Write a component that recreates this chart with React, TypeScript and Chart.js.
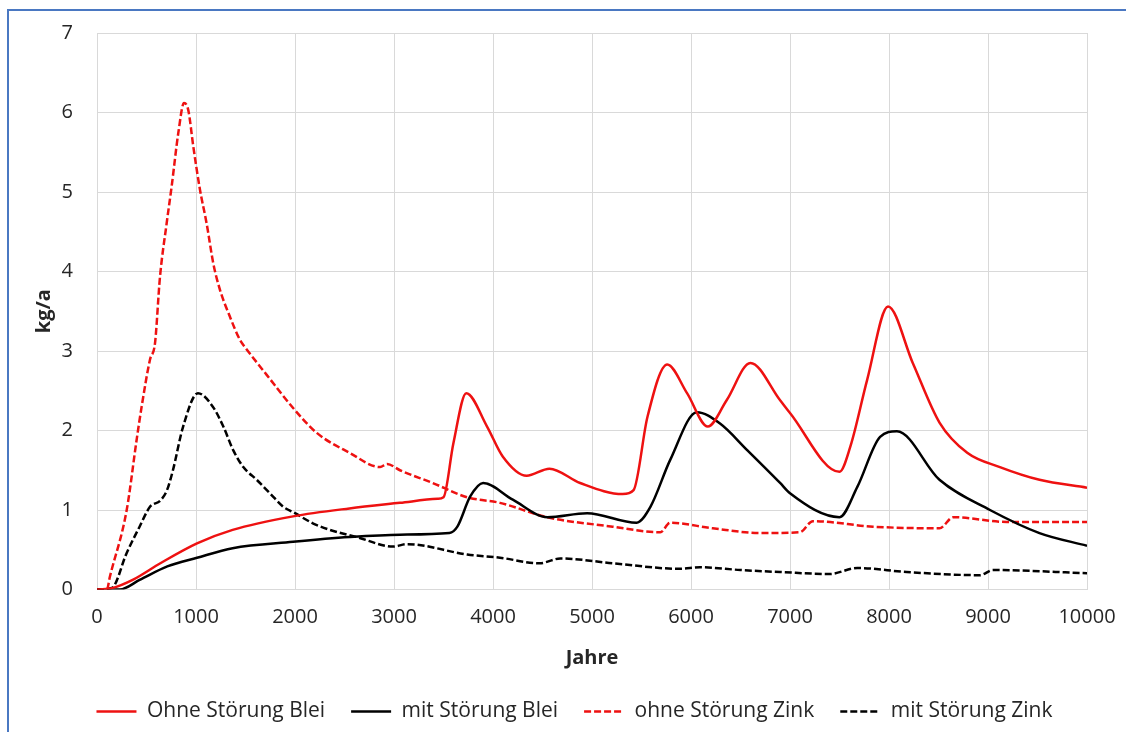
import React, { useEffect, useRef } from "react";
import { Chart, registerables } from "chart.js";

Chart.register(...registerables);

// Ohne Störung Blei (red solid)
const ohneBleiX = [0, 160, 360, 640, 1010, 1370, 1980, 2550, 3060, 3440, 3500, 3600, 3730, 3940, 4100, 4340, 4570, 4880, 5310, 5420, 5560, 5760, 5960, 6170, 6360, 6600, 6900, 7000, 7500, 7610, 7780, 7990, 8240, 8510, 8790, 9120, 9520, 10000];
const ohneBleiY = [0, 0.02, 0.12, 0.33, 0.58, 0.75, 0.92, 1.02, 1.09, 1.14, 1.16, 1.84, 2.47, 2.05, 1.67, 1.43, 1.52, 1.34, 1.2, 1.25, 2.17, 2.83, 2.47, 2.05, 2.38, 2.85, 2.38, 2.22, 1.48, 1.8, 2.64, 3.56, 2.85, 2.1, 1.72, 1.54, 1.38, 1.28];

// mit Störung Blei (black solid)
const mitBleiX = [0, 230, 430, 710, 1010, 1370, 1980, 2550, 3060, 3560, 3640, 3770, 3900, 4200, 4550, 4950, 5450, 5590, 5790, 6060, 6290, 6570, 6900, 7000, 7500, 7680, 7910, 8080, 8510, 9020, 9520, 10000];
const mitBleiY = [0, 0, 0.12, 0.29, 0.4, 0.52, 0.6, 0.66, 0.69, 0.71, 0.79, 1.17, 1.34, 1.13, 0.91, 0.96, 0.84, 1.04, 1.63, 2.23, 2.09, 1.75, 1.34, 1.21, 0.91, 1.29, 1.92, 1.99, 1.38, 1.0, 0.71, 0.55];

// ohne Störung Zink (red dashed)
const ohneZinkX = [0, 100, 130, 300, 400, 451, 535, 586, 636, 704, 754, 821, 879, 922, 973, 1040, 1108, 1175, 1242, 1343, 1444, 1500, 1714, 1983, 2220, 2550, 2860, 2930, 3060, 3390, 3740, 4070, 4545, 5210, 5690, 5790, 6220, 6700, 7100, 7230, 7840, 8510, 8650, 9190, 10000];
const ohneZinkY = [0, 0, 0.16, 1.0, 1.88, 2.3, 2.89, 3.1, 3.93, 4.61, 5.07, 5.74, 6.12, 6.03, 5.57, 5.03, 4.6, 4.1, 3.77, 3.43, 3.14, 3.04, 2.7, 2.28, 1.97, 1.72, 1.54, 1.58, 1.5, 1.34, 1.16, 1.09, 0.91, 0.79, 0.72, 0.84, 0.77, 0.71, 0.72, 0.86, 0.79, 0.77, 0.91, 0.85, 0.85];

// mit Störung Zink (black dashed)
const mitZinkX = [0, 150, 300, 430, 535, 640, 707, 767, 870, 1020, 1170, 1276, 1377, 1478, 1613, 1747, 1882, 2000, 2185, 2353, 2623, 2990, 3130, 3740, 4070, 4470, 4680, 5210, 5890, 6090, 6500, 6900, 7400, 7680, 8180, 8920, 9050, 10000];
const mitZinkY = [0, 0.02, 0.46, 0.79, 1.04, 1.12, 1.25, 1.5, 2.05, 2.47, 2.3, 2.05, 1.75, 1.54, 1.38, 1.21, 1.04, 0.96, 0.83, 0.75, 0.66, 0.54, 0.57, 0.44, 0.4, 0.33, 0.39, 0.33, 0.26, 0.28, 0.245, 0.22, 0.195, 0.27, 0.22, 0.18, 0.245, 0.205];

const seriesNames = ["Ohne Störung Blei", "mit Störung Blei", "ohne Störung Zink", "mit Störung Zink"];
const xTitle = "Jahre";
const yTitle = "kg/a";

const RED = "#ee1111";
const BLACK = "#000000";
const GRID = "#d9d9d9";
const TEXT = "#262626";
const FONT = "'Open Sans', sans-serif";
const DASH = [7, 3];

function pts(xs: number[], ys: number[]) {
  return xs.map((x, i) => ({ x, y: ys[i] }));
}

export default function App() {
  const ref = useRef<HTMLCanvasElement | null>(null);

  useEffect(() => {
    if (!ref.current) return;
    const common = { pointRadius: 0, borderWidth: 2.5, cubicInterpolationMode: "monotone" as const, fill: false };
    const chart = new Chart(ref.current, {
      type: "line",
      data: {
        datasets: [
          { ...common, label: seriesNames[0], data: pts(ohneBleiX, ohneBleiY), borderColor: RED, backgroundColor: RED },
          { ...common, label: seriesNames[1], data: pts(mitBleiX, mitBleiY), borderColor: BLACK, backgroundColor: BLACK },
          { ...common, label: seriesNames[2], data: pts(ohneZinkX, ohneZinkY), borderColor: RED, backgroundColor: RED, borderDash: DASH },
          { ...common, label: seriesNames[3], data: pts(mitZinkX, mitZinkY), borderColor: BLACK, backgroundColor: BLACK, borderDash: DASH },
        ],
      },
      options: {
        animation: false,
        responsive: false,
        maintainAspectRatio: false,
        layout: { padding: { left: 62, top: 33, right: 39, bottom: 0 } },
        plugins: {
          tooltip: { enabled: false },
          legend: {
            position: "bottom",
            labels: {
              usePointStyle: true,
              pointStyle: "line",
              pointStyleWidth: 40,
              boxHeight: 21,
              padding: 26,
              color: TEXT,
              font: { family: FONT, size: 21 },
              generateLabels: (c: any) => {
                const items = Chart.defaults.plugins.legend.labels.generateLabels(c);
                return items.map((it: any) => {
                  const ds: any = c.data.datasets[it.datasetIndex];
                  return { ...it, lineDash: ds.borderDash || [], lineWidth: 2.5, strokeStyle: ds.borderColor, fillStyle: ds.borderColor, pointStyle: "line" };
                });
              },
            },
          },
        },
        scales: {
          x: {
            type: "linear",
            min: 0,
            max: 10000,
            ticks: { stepSize: 1000, color: TEXT, font: { family: FONT, size: 20 }, padding: 16, maxRotation: 0, callback: (v: any) => String(v) },
            grid: { color: GRID, lineWidth: 1, drawTicks: false },
            border: { color: GRID },
            title: { display: true, text: xTitle, color: TEXT, font: { family: FONT, size: 20, weight: "bold" }, padding: { top: 0, bottom: 5 } },
            afterFit: (s: any) => { s.height = 85.5; s.paddingLeft = 0; s.paddingRight = 0; },
          },
          y: {
            min: 0,
            max: 7,
            ticks: { stepSize: 1, color: TEXT, font: { family: FONT, size: 20 }, padding: 24, callback: (v: any) => String(v) },
            grid: { color: GRID, lineWidth: 1, drawTicks: false },
            border: { color: GRID },
            title: { display: true, text: yTitle, color: TEXT, font: { family: FONT, size: 20, weight: "bold" }, padding: { top: -30, bottom: 0 } },
            afterFit: (s: any) => { s.width = 35; s.paddingTop = 0; s.paddingBottom = 0; },
          },
        },
      },
    });
    return () => chart.destroy();
  }, []);

  return (
    <div style={{ position: "fixed", left: 0, top: 0, width: 1126, height: 732, background: "#fff", overflow: "hidden" }}>
      <div style={{ position: "absolute", left: 7, top: 9, width: 1300, height: 900, borderLeft: "2px solid #4a78c2", borderTop: "2px solid #4a78c2" }} />
      <canvas ref={ref} width={1126} height={732} style={{ position: "absolute", left: 0, top: 0, width: 1126, height: 732 }} />
    </div>
  );
}
